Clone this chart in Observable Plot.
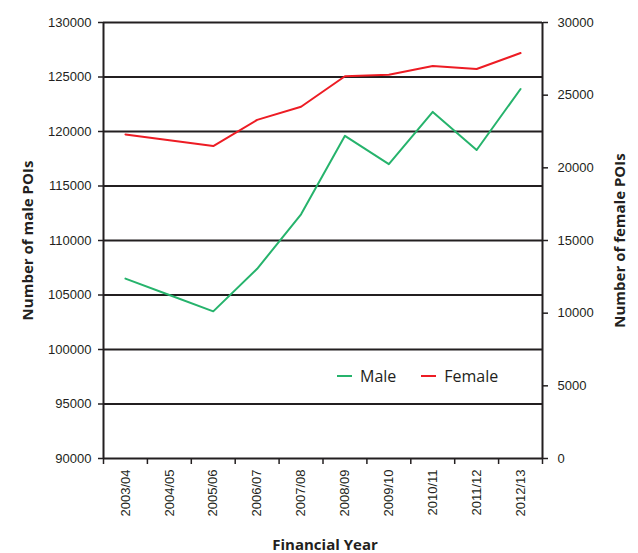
<!DOCTYPE html>
<html>
<head>
<meta charset="utf-8">
<script src="https://cdn.jsdelivr.net/npm/d3@7"></script>
<script src="https://cdn.jsdelivr.net/npm/@observablehq/plot@0.6"></script>
<style>
  html, body { margin: 0; padding: 0; background: white; }
  #wrap { position: relative; width: 638px; height: 553px; }
  #legend { position: absolute; left: 337px; top: 365px; font-family: "Open Sans", sans-serif; font-size: 16px; color: #231f20; display: flex; align-items: center; }
  #legend .item { display: flex; align-items: center; margin-right: 25px; }
  #legend .sw { width: 15px; height: 2px; margin-right: 8px; }
</style>
</head>
<body>
<div id="wrap"></div>
<script>
const categories = ["2003/04","2004/05","2005/06","2006/07","2007/08","2008/09","2009/10","2010/11","2011/12","2012/13"];
const maleValues = [106500,105000,103500,107400,112400,119600,117000,121800,118300,123900];
const femaleValues = [22300,21900,21500,23300,24200,26300,26400,27000,26800,27900];
const maleTicks = [90000,95000,100000,105000,110000,115000,120000,125000,130000];
const femaleTicks = [0,5000,10000,15000,20000,25000,30000];
const seriesNames = ["Male","Female"];
const seriesColors = ["#26b36c","#ed1c24"];

const maleDomain = [90000,130000];
const femaleDomain = [0,30000];
const toLeft = f => maleDomain[0] + (f - femaleDomain[0]) * (maleDomain[1]-maleDomain[0]) / (femaleDomain[1]-femaleDomain[0]);
const toRight = m => (m - maleDomain[0]) * (femaleDomain[1]-femaleDomain[0]) / (maleDomain[1]-maleDomain[0]) + femaleDomain[0];

const rows = categories.map((c, i) => ({cat: c, x: i + 0.5, male: maleValues[i], female: toLeft(femaleValues[i])}));
const ink = "#231f20";
const titleFont = "'Open Sans', sans-serif";

const chart = Plot.plot({
  width: 638, height: 553,
  marginTop: 22, marginBottom: 95, marginLeft: 103, marginRight: 96,
  style: {fontFamily: "'Liberation Sans', Arial, sans-serif", fontSize: "13px", color: ink, background: "white"},
  x: {type: "linear", domain: [0, categories.length]},
  y: {domain: maleDomain},
  marks: [
    Plot.ruleY(maleTicks.slice(1), {stroke: ink, strokeWidth: 1.8}),
    Plot.ruleX([0, categories.length], {stroke: ink, strokeWidth: 2}),
    Plot.ruleY([maleDomain[0]], {stroke: ink, strokeWidth: 2}),
    Plot.axisY({ticks: maleTicks, anchor: "left", tickSize: 5, tickPadding: 7, tickFormat: d => String(d), label: null, strokeWidth: 1.5}),
    Plot.axisY({ticks: femaleTicks.map(toLeft), anchor: "right", tickSize: 5, tickPadding: 10, tickFormat: d => String(Math.round(toRight(d))), label: null, strokeWidth: 1.5}),
    Plot.axisX({ticks: d3.range(0, categories.length + 1), tickFormat: () => "", tickSize: 6, label: null, strokeWidth: 1.5}),
    Plot.axisX({ticks: rows.map(r => r.x), tickFormat: d => categories[Math.floor(d)], tickSize: 0, tickPadding: 11, tickRotate: -90, label: null}),
    Plot.line(rows, {x: "x", y: "male", stroke: seriesColors[0], strokeWidth: 2}),
    Plot.line(rows, {x: "x", y: "female", stroke: seriesColors[1], strokeWidth: 2}),
    Plot.text(["Number of male POIs"], {frameAnchor: "left", textAnchor: "middle", lineAnchor: "middle", dx: -75, rotate: -90, fontFamily: titleFont, fontWeight: "bold", fontSize: 15, fill: ink}),
    Plot.text(["Number of female POIs"], {frameAnchor: "right", textAnchor: "middle", lineAnchor: "middle", dx: 78, rotate: -90, fontFamily: titleFont, fontWeight: "bold", fontSize: 15, fill: ink}),
    Plot.text(["Financial Year"], {frameAnchor: "bottom", textAnchor: "middle", lineAnchor: "middle", dx: 2, dy: 87, fontFamily: titleFont, fontWeight: "bold", fontSize: 15, fill: ink})
  ]
});

const wrap = document.getElementById("wrap");
wrap.appendChild(chart);
const legend = document.createElement("div");
legend.id = "legend";
seriesNames.forEach((name, i) => {
  const item = document.createElement("div");
  item.className = "item";
  const sw = document.createElement("span");
  sw.className = "sw";
  sw.style.background = seriesColors[i];
  const t = document.createElement("span");
  t.textContent = name;
  item.appendChild(sw); item.appendChild(t);
  legend.appendChild(item);
});
wrap.appendChild(legend);
</script>
</body>
</html>
